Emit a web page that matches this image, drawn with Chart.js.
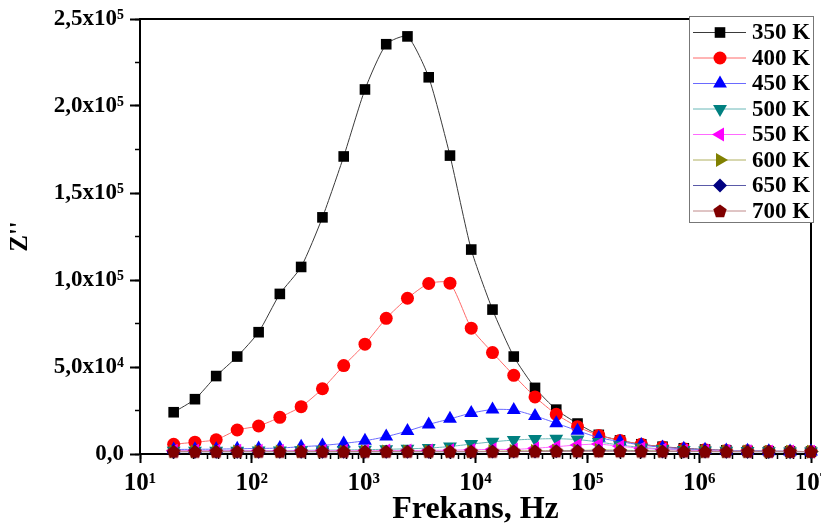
<!DOCTYPE html>
<html>
<head>
<meta charset="utf-8">
<script src="https://cdn.jsdelivr.net/npm/chart.js@4.4.1/dist/chart.umd.min.js"></script>
<style>
  html, body { margin: 0; padding: 0; background: #fff; }
  canvas { display: block; }
</style>
</head>
<body>
<canvas id="grafik" width="821" height="530"></canvas>
<script>
// frekans (Hz) ve sicakliga gore Z'' degerleri, grafikten okunan tahmini degerler
var frekans = [20, 31, 48, 74, 115, 178, 276, 428, 663, 1027, 1591, 2464, 3817, 5913, 9160,
  14190, 21980, 34050, 52740, 81700, 126600, 196000, 303600, 470300, 728600,
  1128600, 1748000, 2708000, 4195000, 6498000, 10000000];

var z350 = [24000, 31500, 44800, 56000, 70000, 92000, 107500, 136000, 171000, 209500, 235500, 240000, 216500, 171500, 117500,
  83000, 56000, 38000, 25500, 17500, 11000, 7800, 5600, 4200, 3300, 2600, 2100, 1800, 1600, 1500, 1400];
var z400 = [5600, 6800, 8200, 13800, 16100, 21100, 27200, 37500, 50800, 63100, 78000, 89500, 98000, 98200, 72300,
  58300, 45200, 32800, 22800, 15700, 10700, 7800, 5600, 4000, 3000, 2400, 2000, 1800, 1600, 1500, 1400];
var z450 = [2600, 2700, 2800, 3000, 3200, 3400, 4200, 4900, 6100, 7600, 10000, 13200, 17000, 20200, 23500,
  25600, 25300, 21900, 17700, 13400, 9400, 7100, 5200, 3800, 3000, 2400, 2000, 1800, 1600, 1500, 1400];
var z500 = [1800, 1800, 1900, 1900, 2000, 2000, 2100, 2200, 2300, 2500, 2700, 3000, 3400, 4300, 5700,
  7000, 8000, 8600, 8800, 8300, 6900, 5100, 3800, 2900, 2300, 2000, 1800, 1700, 1600, 1500, 1400];
var z550 = [1900, 1900, 1900, 1900, 1900, 1900, 1900, 1900, 1900, 1900, 2000, 2000, 2100, 2200, 2400,
  2700, 2600, 3300, 4200, 5200, 5700, 4400, 3300, 2600, 2100, 1900, 1700, 1600, 1500, 1500, 1400];
var z600 = [1500, 1500, 1500, 1500, 1500, 1500, 1500, 1500, 1500, 1500, 1500, 1500, 1500, 1500, 1500,
  1600, 1700, 1800, 1900, 2000, 2300, 2200, 1900, 1700, 1600, 1500, 1500, 1500, 1400, 1400, 1400];
var z650 = [1300, 1300, 1300, 1300, 1300, 1300, 1300, 1300, 1300, 1300, 1300, 1300, 1300, 1300, 1300,
  1400, 1400, 1500, 1600, 1700, 1800, 1700, 1600, 1500, 1400, 1400, 1300, 1300, 1300, 1300, 1300];
var z700 = [1400, 1400, 1400, 1400, 1400, 1400, 1400, 1400, 1400, 1400, 1400, 1400, 1400, 1400, 1400,
  1400, 1500, 1500, 1600, 1600, 1600, 1600, 1500, 1500, 1500, 1400, 1400, 1400, 1400, 1400, 1400];

var etiketler = ['350 K', '400 K', '450 K', '500 K', '550 K', '600 K', '650 K', '700 K'];

var xTickDegerleri = [10, 100, 1000, 10000, 100000, 1000000, 10000000];
var xTickEtiketleri = ['10\u00B9', '10\u00B2', '10\u00B3', '10\u2074', '10\u2075', '10\u2076', '10\u2077'];
var yTickEtiketleri = ['0,0', '5,0x10\u2074', '1,0x10\u2075', '1,5x10\u2075', '2,0x10\u2075', '2,5x10\u2075'];

function pentagon(renk, r) {
  var c = document.createElement('canvas');
  var s = Math.ceil(r * 2) + 2;
  c.width = s;
  c.height = s;
  var g = c.getContext('2d');
  g.fillStyle = renk;
  g.beginPath();
  for (var k = 0; k < 5; k++) {
    var a = -Math.PI / 2 + k * 2 * Math.PI / 5;
    var px = s / 2 + r * Math.cos(a);
    var py = s / 2 + 0.5 + r * Math.sin(a);
    if (k === 0) g.moveTo(px, py); else g.lineTo(px, py);
  }
  g.closePath();
  g.fill();
  return c;
}

var stiller = [
  { renk: '#000000', cizgi: '#3a3a3a', nokta: 'rect', donus: 0, r: 7.5 },
  { renk: '#ff0000', cizgi: '#ff6a6a', nokta: 'circle', donus: 0, r: 6.5 },
  { renk: '#0000ff', cizgi: '#6a6aff', nokta: 'triangle', donus: 0, r: 8 },
  { renk: '#008080', cizgi: '#6ab8b8', nokta: 'triangle', donus: 180, r: 8 },
  { renk: '#ff00ff', cizgi: '#ff6aff', nokta: 'triangle', donus: 270, r: 8 },
  { renk: '#808000', cizgi: '#b0b060', nokta: 'triangle', donus: 90, r: 8 },
  { renk: '#000080', cizgi: '#5a5aa8', nokta: 'rectRot', donus: 0, r: 7 },
  { renk: '#800000', cizgi: '#c08a8a', nokta: pentagon('#800000', 7), donus: 0, r: 7 }
];

var seriler = [z350, z400, z450, z500, z550, z600, z650, z700];

var datasets = seriler.map(function (veri, i) {
  var st = stiller[i];
  return {
    label: etiketler[i],
    data: frekans.map(function (f, j) { return { x: f, y: veri[j] }; }),
    borderColor: st.cizgi,
    borderWidth: 1,
    backgroundColor: st.renk,
    pointStyle: st.nokta,
    pointRotation: st.donus,
    pointRadius: st.r,
    pointBackgroundColor: st.renk,
    pointBorderWidth: 0,
    tension: 0.2,
    clip: false,
    order: seriler.length - i
  };
});

var yaziTipi = '"Liberation Serif", "Times New Roman", serif';

// cerceve ve lejant
var cercevePlugin = {
  id: 'cerceve',
  beforeDatasetsDraw: function (chart) {
    var a = chart.chartArea;
    var ctx = chart.ctx;
    ctx.save();
    ctx.strokeStyle = '#000';
    ctx.lineWidth = 2;
    ctx.strokeRect(a.left, a.top, a.right - a.left, a.bottom - a.top);
    ctx.restore();
  },
  afterDraw: function (chart) {
    var ctx = chart.ctx;
    var a = chart.chartArea;
    var kx = a.right - 122;
    var ky = 16;
    ctx.save();
    ctx.fillStyle = '#fff';
    ctx.fillRect(kx, ky, 125, 207);
    ctx.strokeStyle = '#777';
    ctx.lineWidth = 1;
    ctx.strokeRect(kx + 0.5, ky + 0.5, 124, 206);
    chart.data.datasets.forEach(function (ds, i) {
      var y = ky + 16.5 + i * 25.5;
      ctx.strokeStyle = ds.borderColor;
      ctx.lineWidth = 1;
      ctx.beginPath();
      ctx.moveTo(kx + 4, y);
      ctx.lineTo(kx + 57, y);
      ctx.stroke();
      ctx.fillStyle = ds.pointBackgroundColor;
      Chart.helpers.drawPoint(ctx, {
        pointStyle: ds.pointStyle,
        rotation: ds.pointRotation,
        radius: ds.pointRadius,
        borderWidth: 0
      }, kx + 31, y);
      ctx.fillStyle = '#000';
      ctx.font = 'bold 23px ' + yaziTipi;
      ctx.textBaseline = 'middle';
      ctx.textAlign = 'left';
      ctx.fillText(ds.label, kx + 63, y + 1);
    });
    ctx.restore();
  }
};

var grafik = new Chart(document.getElementById('grafik'), {
  type: 'line',
  data: { datasets: datasets },
  plugins: [cercevePlugin],
  options: {
    responsive: false,
    animation: false,
    events: [],
    layout: { padding: { top: 19, right: 10, left: 0, bottom: 0 } },
    plugins: {
      legend: { display: false },
      tooltip: { enabled: false }
    },
    scales: {
      x: {
        type: 'logarithmic',
        position: 'bottom',
        weight: 1,
        min: 10,
        max: 10000000,
        afterBuildTicks: function (s) {
          s.ticks = xTickDegerleri.map(function (v) { return { value: v }; });
        },
        afterFit: function (s) {
          s.height = 76;
          s.paddingLeft = 0;
          s.paddingRight = 0;
        },
        border: { display: true, color: '#000', width: 2 },
        grid: { drawOnChartArea: false, drawTicks: true, tickLength: 9, tickWidth: 2, tickColor: '#000' },
        ticks: {
          autoSkip: false,
          maxRotation: 0,
          padding: 6,
          color: '#000',
          font: { family: yaziTipi, size: 25, weight: 'bold' },
          callback: function (v) {
            var k = xTickDegerleri.indexOf(v);
            return k >= 0 ? xTickEtiketleri[k] : '';
          }
        },
        title: {
          display: true,
          text: 'Frekans, Hz',
          color: '#000',
          font: { family: yaziTipi, size: 32, weight: 'bold' },
          padding: { top: 0, bottom: 1 }
        }
      },
      x2: {
        type: 'logarithmic',
        position: 'bottom',
        weight: 0,
        min: 10,
        max: 10000000,
        afterBuildTicks: function (s) {
          var t = [];
          for (var e = 1; e < 7; e++) {
            for (var m = 1; m < 10; m++) t.push({ value: m * Math.pow(10, e) });
          }
          t.push({ value: 10000000 });
          s.ticks = t;
        },
        afterFit: function (s) {
          s.height = 0;
          s.paddingLeft = 0;
          s.paddingRight = 0;
        },
        border: { display: false },
        grid: { drawOnChartArea: false, drawTicks: true, tickLength: 5, tickWidth: 1.5, tickColor: '#000' },
        ticks: { display: false }
      },
      y: {
        type: 'linear',
        position: 'left',
        weight: 1,
        min: 0,
        max: 250000,
        afterFit: function (s) {
          s.width = 140;
          s.paddingTop = 0;
          s.paddingBottom = 0;
        },
        border: { display: true, color: '#000', width: 2 },
        grid: { drawOnChartArea: false, drawTicks: true, tickLength: 10, tickWidth: 2, tickColor: '#000' },
        ticks: {
          stepSize: 50000,
          padding: 6,
          color: '#000',
          font: { family: yaziTipi, size: 23, weight: 'bold' },
          callback: function (v, i) { return yTickEtiketleri[i]; }
        },
        title: {
          display: true,
          text: "Z''",
          color: '#000',
          font: { family: yaziTipi, size: 25, weight: 'bold' },
          padding: { top: 6, bottom: 0 }
        }
      },
      y2: {
        type: 'linear',
        position: 'left',
        weight: 0,
        min: 0,
        max: 250000,
        afterFit: function (s) {
          s.width = 0;
          s.paddingTop = 0;
          s.paddingBottom = 0;
        },
        border: { display: false },
        grid: { drawOnChartArea: false, drawTicks: true, tickLength: 5, tickWidth: 1.5, tickColor: '#000' },
        ticks: { display: false, stepSize: 25000 }
      }
    }
  }
});
</script>
</body>
</html>
